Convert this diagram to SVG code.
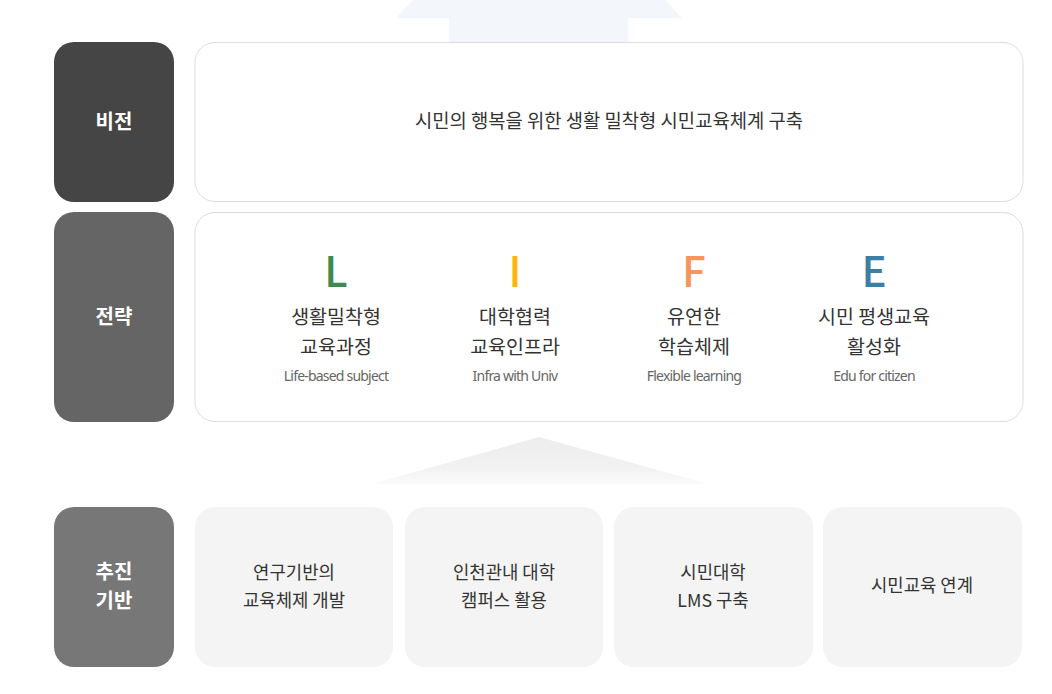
<svg xmlns="http://www.w3.org/2000/svg" width="1052" height="694" viewBox="0 0 1052 694">
<defs>
<linearGradient id="tri" x1="0" y1="0" x2="0" y2="1">
<stop offset="0" stop-color="#ededed"/>
<stop offset="0.6" stop-color="#f1f1f1"/>
<stop offset="1" stop-color="#fafafa"/>
</linearGradient>
<style>
.lab{font-family:"Noto Sans CJK KR","Noto Sans",sans-serif;font-size:20px;font-weight:700;fill:#fff;text-anchor:middle}
.wbox{fill:#fff;stroke:#dcdcdc;stroke-width:1}
.gbox{fill:#f4f4f4}
.kt{font-family:"Noto Sans CJK KR","Noto Sans",sans-serif;font-size:19.5px;fill:#333;text-anchor:middle}
.vt{font-family:"Noto Sans CJK KR","Noto Sans",sans-serif;font-size:18.8px;fill:#333;text-anchor:middle}
.bt{font-family:"Noto Sans CJK KR","Noto Sans",sans-serif;font-size:17.8px;fill:#333;text-anchor:middle}
.let{font-family:"Noto Sans CJK KR","Noto Sans",sans-serif;font-size:42px;font-weight:500;text-anchor:middle}
.en{font-family:"Noto Sans","Noto Sans CJK KR",sans-serif;font-size:14px;fill:#666;text-anchor:middle;letter-spacing:-0.8px}
</style>
</defs>
<rect width="1052" height="694" fill="#fff"/>
<g id="arrows">
<polygon points="413,0 396,18 449,18 449,44 628,44 628,18 682,18 665,0" fill="#f3f7fb"/>
<polygon points="539,437 708,484 372,484" fill="url(#tri)"/>
</g>
<g id="vision-label"><rect x="54" y="42" width="120" height="160" rx="20" fill="#454545"/><text class="lab" x="114" y="129">비전</text></g>
<g id="vision"><rect class="wbox" x="195" y="42.5" width="828" height="159" rx="20"/><text class="vt" x="609" y="128">시민의 행복을 위한 생활 밀착형 시민교육체계 구축</text></g>
<g id="strategy-label"><rect x="54" y="212" width="120" height="210" rx="20" fill="#656565"/><text class="lab" x="114" y="324">전략</text></g>
<g id="strategy"><rect class="wbox" x="195" y="212.5" width="828" height="209" rx="20"/>
<g id="L"><text class="let" x="336" y="287" fill="#3f8a4f">L</text><text class="kt" x="336" y="324">생활밀착형</text><text class="kt" x="336" y="354">교육과정</text><text class="en" x="336" y="381">Life-based subject</text></g>
<g id="I"><text class="let" x="515" y="287" fill="#fbb614">I</text><text class="kt" x="515" y="324">대학협력</text><text class="kt" x="515" y="354">교육인프라</text><text class="en" x="515" y="381">Infra with Univ</text></g>
<g id="F"><text class="let" x="694" y="287" fill="#f6955c">F</text><text class="kt" x="694" y="324">유연한</text><text class="kt" x="694" y="354">학습체제</text><text class="en" x="694" y="381">Flexible learning</text></g>
<g id="E"><text class="let" x="874" y="287" fill="#3b7ea6">E</text><text class="kt" x="874" y="324">시민 평생교육</text><text class="kt" x="874" y="354">활성화</text><text class="en" x="874" y="381">Edu for citizen</text></g>
</g>
<g id="base-label"><rect x="54" y="507" width="120" height="160" rx="20" fill="#777"/><text class="lab" x="114" y="579">추진</text><text class="lab" x="114" y="608">기반</text></g>
<g id="b1"><rect class="gbox" x="195" y="507" width="198" height="160" rx="20"/><text class="bt" x="294" y="579">연구기반의</text><text class="bt" x="294" y="607">교육체제 개발</text></g>
<g id="b2"><rect class="gbox" x="405" y="507" width="198" height="160" rx="20"/><text class="bt" x="504" y="579">인천관내 대학</text><text class="bt" x="504" y="607">캠퍼스 활용</text></g>
<g id="b3"><rect class="gbox" x="614" y="507" width="199" height="160" rx="20"/><text class="bt" x="713" y="579">시민대학</text><text class="bt" x="713" y="607">LMS 구축</text></g>
<g id="b4"><rect class="gbox" x="823" y="507" width="199" height="160" rx="20"/><text class="bt" x="922" y="592">시민교육 연계</text></g>
</svg>
